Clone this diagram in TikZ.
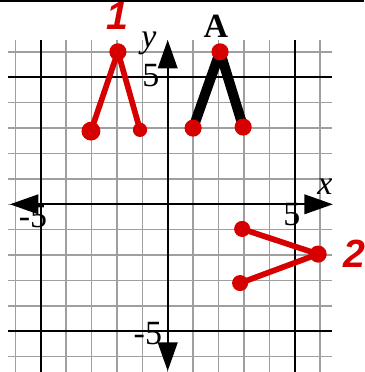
\documentclass[tikz,border=0pt]{standalone}
\usepackage{fontspec}
\setmainfont{Liberation Serif}
\newfontfamily\penfont{Liberation Sans}
\usetikzlibrary{arrows.meta}
\definecolor{marker}{RGB}{214,0,0}
\begin{document}
\begin{tikzpicture}[x=0.5cm,y=0.5cm,
    gridline/.style={gray!75, line width=0.8pt},
    fiveline/.style={black, line width=1.1pt},
    axis/.style={line width=1.1pt, {Triangle[length=16pt,width=11pt]}-{Triangle[length=16pt,width=11pt]}},
    pen/.style={marker, line width=3.2pt, line cap=round, line join=round},
    lbl/.style={font=\fontsize{19}{19}\selectfont, inner sep=0pt},
    hand/.style={text=marker, inner sep=0pt, font=\penfont\bfseries\itshape\fontsize{22}{22}\selectfont}]
    \useasboundingbox (-6.60,-6.60) rectangle (7.73,8.04);
    \fill (-6.60,7.96) rectangle (7.73,8.04);
    % grid
    \foreach \i in {-6,...,6} \draw[gridline] (\i,-6.6) -- (\i,6.47);
    \foreach \j in {-6,...,6} \draw[gridline] (-6.3,\j) -- (6.45,\j);
    \foreach \i in {-5,5} {
        \draw[fiveline] (\i,-6.6) -- (\i,6.47);
        \draw[fiveline] (-6.3,\i) -- (6.45,\i);
    }
    % axes
    \coordinate (xleft) at (-6.21,0);
    \coordinate (xright) at (6.5,0);
    \coordinate (ytop) at (0,6.47);
    \coordinate (ybottom) at (0,-6.56);
    \draw[axis] (xleft) -- (xright);
    \draw[axis] (ybottom) -- (ytop);
    \node[lbl, font=\fontsize{19}{19}\selectfont\itshape] (xlabel) at (6.19,0.68) {x};
    \node[lbl, font=\fontsize{19}{19}\selectfont\itshape] (ylabel) at (-0.74,6.35) {y};
    \node[lbl] (xmin) at (-5.30,-0.50) {-5};
    \node[lbl] (xmax) at (4.89,-0.42) {5};
    \node[lbl] (ymax) at (-0.66,5.06) {5};
    \node[lbl] (ymin) at (-0.78,-5.07) {-5};
    % figure A
    \coordinate (a1) at (1.0,3.0);
    \coordinate (a2) at (2.06,6.0);
    \coordinate (a3) at (2.97,3.04);
    \draw[line width=5.6pt, line join=round] (a1) -- (a2) -- (a3);
    \node[lbl, font=\fontsize{19}{19}\selectfont\bfseries] (alabel) at (1.90,7.02) {A};
    % image 1
    \coordinate (b1) at (-3.02,2.88);
    \coordinate (b2) at (-1.96,6.0);
    \coordinate (b3) at (-1.09,2.93);
    \draw[pen] (b1) -- (b2) -- (b3);
    \node[hand] (onelabel) at (-1.96,7.4) {1};
    % image 2
    \coordinate (c1) at (2.93,-0.97);
    \coordinate (c2) at (5.92,-1.96);
    \coordinate (c3) at (2.85,-3.10);
    \draw[pen] (c1) -- (c2) -- (c3);
    \node[hand] (twolabel) at (7.33,-1.96) {2};
    % dots
    \foreach \p/\r in {a1/4.8pt, a2/4.8pt, a3/4.8pt, b1/5.3pt, b2/4.8pt, b3/4pt, c1/4.5pt, c2/4.8pt, c3/4.5pt}
        \fill[marker] (\p) circle (\r);
\end{tikzpicture}
\end{document}
